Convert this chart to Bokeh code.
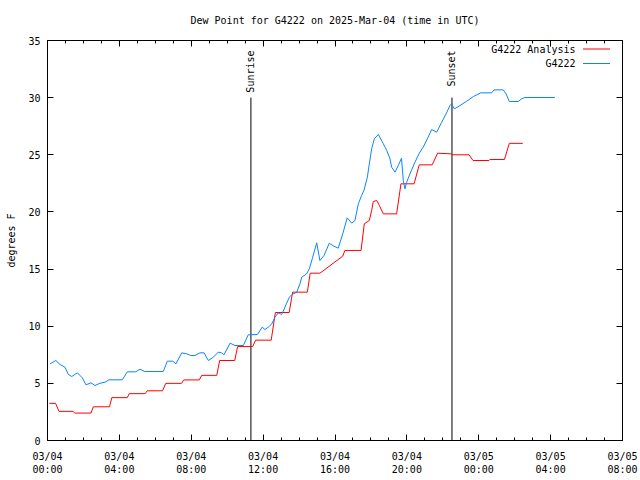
from bokeh.plotting import figure
from bokeh.models import Range1d, FixedTicker, LinearAxis, Label
from bokeh.embed import file_html
from bokeh.resources import INLINE

TITLE = "Dew Point for G4222 on 2025-Mar-04 (time in UTC)"
Y_LABEL = "degrees F"

x_ticks = [0, 4, 8, 12, 16, 20, 24, 28, 32]
x_tick_labels = ["03/04\n00:00", "03/04\n04:00", "03/04\n08:00", "03/04\n12:00",
                 "03/04\n16:00", "03/04\n20:00", "03/05\n00:00", "03/05\n04:00",
                 "03/05\n08:00"]
x_minor_ticks = list(range(0, 33))
y_ticks = [0, 5, 10, 15, 20, 25, 30, 35]

# hours since 2025-03-04 00:00 UTC
analysis_hours = [0.10, 0.45, 0.64, 1.42, 1.52, 2.42, 2.55, 3.45, 3.58, 4.44, 4.55,
                  5.44, 5.55, 6.40, 6.58, 7.46, 7.58, 8.45, 8.58, 9.42, 9.58, 10.42,
                  10.58, 11.42, 11.58, 12.45, 12.68, 13.45, 13.64, 14.46, 14.62,
                  15.16, 16.43, 16.55, 17.45, 17.63, 17.91, 18.04, 18.13, 18.32,
                  18.47, 18.69, 19.43, 19.67, 20.40, 20.69, 21.41, 21.71, 22.45,
                  22.57, 23.46, 23.68, 24.57, 24.62, 25.43, 25.70, 26.45]
analysis_dewpt = [3.25, 3.25, 2.55, 2.55, 2.40, 2.40, 2.95, 2.95, 3.75, 3.75, 4.10,
                  4.10, 4.35, 4.35, 5.00, 5.00, 5.30, 5.30, 5.70, 5.70, 7.00, 7.00,
                  8.22, 8.22, 8.78, 8.78, 11.20, 11.20, 12.98, 12.98, 14.64,
                  14.64, 16.13, 16.63, 16.63, 18.96, 19.25, 20.13, 20.91, 21.00,
                  20.56, 19.83, 19.83, 22.46, 22.46, 24.12, 24.12, 25.14, 25.08,
                  25.00, 25.00, 24.50, 24.50, 24.59, 24.59, 26.00, 26.00]

obs_hours = [0.14, 0.46, 0.70, 0.97, 1.16, 1.35, 1.66, 1.94, 2.14, 2.42, 2.64, 2.92,
             3.20, 3.42, 4.16, 4.44, 4.91, 5.15, 5.39, 6.44, 6.67, 6.97, 7.15, 7.47,
             7.75, 7.97, 8.21, 8.49, 8.71, 8.95, 9.23, 9.50, 9.69, 9.82, 10.16, 10.43,
             10.90, 11.17, 11.68, 11.95, 12.10, 12.29, 12.48, 12.66, 12.84, 13.03,
             13.12, 13.31, 13.46, 13.59, 13.87, 14.05, 14.15, 14.42, 14.57, 14.76,
             14.98, 15.16, 15.39, 15.68, 15.94, 16.18, 16.43, 16.68, 16.93, 17.11,
             17.30, 17.48, 17.61, 17.80, 17.91, 18.04, 18.19, 18.41, 18.69, 18.88,
             19.06, 19.15, 19.34, 19.52, 19.70, 19.80, 19.89, 19.99, 20.17, 20.45,
             20.69, 20.91, 21.14, 21.38, 21.66, 21.94, 22.18, 22.40, 22.49, 22.64,
             22.96, 23.33, 23.70, 24.11, 24.72, 24.85, 25.36, 25.52, 25.70, 26.20,
             26.39, 26.57, 28.24]
obs_dewpt = [6.71, 7.00, 6.65, 6.42, 5.78, 5.60, 5.92, 5.48, 4.87, 5.05, 4.81, 5.01,
             5.10, 5.31, 5.31, 6.01, 6.01, 6.24, 6.04, 6.04, 6.94, 6.94, 6.71, 7.67,
             7.58, 7.44, 7.44, 7.67, 7.67, 7.00, 7.29, 7.73, 7.67, 7.50, 8.52, 8.31,
             8.31, 9.25, 9.27, 9.92, 9.71, 9.92, 10.20, 10.79, 11.17, 11.03,
             11.32, 12.02, 12.54, 12.75, 12.98, 13.71, 14.29, 14.58, 15.02, 16.04,
             17.30, 15.75, 16.19, 17.26, 17.00, 16.83, 18.08, 19.48, 19.02, 19.25,
             20.71, 21.44, 21.88, 23.04, 24.21, 25.52, 26.40, 26.78, 25.96, 25.38,
             24.65, 23.92, 23.48, 24.06, 24.70, 22.75, 22.02, 22.60, 23.33, 24.35,
             25.14, 25.67, 26.40, 27.21, 26.98, 27.85, 28.58, 29.31, 29.46, 29.02,
             29.31, 29.69, 30.10, 30.42, 30.42, 30.68, 30.68, 30.33, 29.66, 29.66,
             29.90, 30.01, 30.01]

sunrise_hour = 11.32
sunset_hour = 22.51
sun_line_top = 30.0

series_names = ["G4222 Analysis", "G4222"]
series_colors = ["#ff0000", "#0a84ff"]

FONT = "DejaVu Sans Mono"
FS = "10px"

X0, X1 = 0, 32
Y0, Y1 = 0, 35
FRAME_W, FRAME_H = 575, 400

p = figure(width=640, height=480, output_backend="svg", toolbar_location=None,
           x_range=Range1d(X0, X1), y_range=Range1d(Y0, Y1),
           min_border_left=47, min_border_right=18, min_border_top=40,
           min_border_bottom=40, background_fill_color="white",
           border_fill_color="white")
p.frame_width = FRAME_W
p.frame_height = FRAME_H

p.grid.visible = False
p.outline_line_color = "black"
p.outline_line_width = 1

xt = FixedTicker(ticks=x_ticks, minor_ticks=x_minor_ticks)
yt = FixedTicker(ticks=y_ticks, minor_ticks=[])

def style_axis(ax, labels=True):
    ax.axis_line_color = "black"
    ax.major_tick_in = 6
    ax.major_tick_out = 0
    ax.minor_tick_in = 3
    ax.minor_tick_out = 0
    ax.major_tick_line_color = "black"
    ax.minor_tick_line_color = "black"
    ax.major_label_text_font = FONT
    ax.major_label_text_font_size = FS
    ax.major_label_text_color = "black"
    ax.axis_label_text_font = FONT
    ax.axis_label_text_font_size = FS
    ax.axis_label_text_font_style = "normal"
    ax.axis_label_text_color = "black"
    if not labels:
        ax.major_label_text_alpha = 0
        ax.major_label_text_font_size = "1px"
        ax.major_label_standoff = 0

p.xaxis.ticker = xt
p.xaxis.major_label_overrides = {t: lab for t, lab in zip(x_ticks, x_tick_labels)}
style_axis(p.xaxis[0])
p.xaxis.major_label_standoff = 10

p.yaxis.ticker = yt
style_axis(p.yaxis[0])
p.yaxis.axis_label = Y_LABEL
p.yaxis.major_label_standoff = 7
p.yaxis.axis_label_standoff = 8

# top axis mirrors ticks and carries the chart title
top = LinearAxis(ticker=FixedTicker(ticks=x_ticks, minor_ticks=x_minor_ticks))
style_axis(top, labels=False)
top.axis_label = TITLE
top.axis_label_standoff = 15
p.add_layout(top, "above")
right = LinearAxis(ticker=FixedTicker(ticks=y_ticks, minor_ticks=[]))
style_axis(right, labels=False)
p.add_layout(right, "right")

# sunrise / sunset
p.segment(x0=[sunrise_hour, sunset_hour], y0=[Y0, Y0],
          x1=[sunrise_hour, sunset_hour], y1=[sun_line_top, sun_line_top],
          line_color="black", line_width=1)
for hr, name in [(sunrise_hour, "Sunrise"), (sunset_hour, "Sunset")]:
    p.add_layout(Label(x=hr, y=Y1, y_offset=-10, text=name, angle=1.5708,
                       text_align="right", text_baseline="middle",
                       text_font=FONT, text_font_size=FS, text_color="black"))

p.line(analysis_hours, analysis_dewpt, line_color=series_colors[0], line_width=1)
p.line(obs_hours, obs_dewpt, line_color=series_colors[1], line_width=1)

# gnuplot-style key (label then sample), top right
px_x = (X1 - X0) / FRAME_W
px_y = (Y1 - Y0) / FRAME_H
for i, (name, col) in enumerate(zip(series_names, series_colors)):
    dy = 8.5 + 14.5 * i
    p.add_layout(Label(x=X1, y=Y1, x_offset=-47, y_offset=-dy, text=name,
                       text_align="right", text_baseline="middle",
                       text_font=FONT, text_font_size=FS, text_color="black"))
    p.segment(x0=[X1 - 39.5 * px_x], y0=[Y1 - dy * px_y],
              x1=[X1 - 12.5 * px_x], y1=[Y1 - dy * px_y],
              line_color=col, line_width=1)

open("out.html", "w").write(file_html(p, INLINE))
